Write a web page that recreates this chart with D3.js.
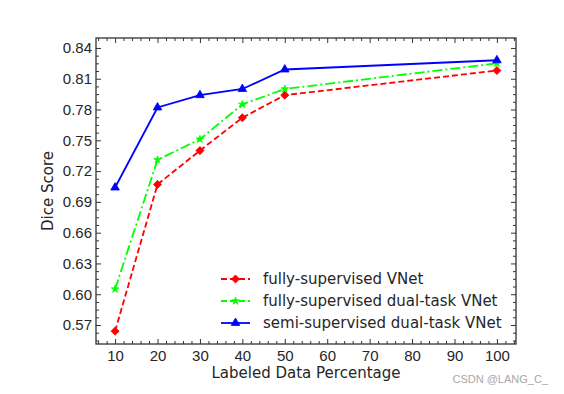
<!DOCTYPE html>
<html>
<head>
<meta charset="utf-8">
<script src="https://cdn.jsdelivr.net/npm/d3@7"></script>
<style>
  body { margin: 0; background: #fff; }
  svg { display: block; font-family: "DejaVu Sans", sans-serif; }
</style>
</head>
<body>
<div id="chart"></div>
<script>
const width = 564,
    height = 394,
    margin = {top: 38, right: 48, bottom: 50, left: 96};

// data
const percentages = [10, 20, 30, 40, 50, 100];
const fullyVNet = [0.564, 0.707, 0.740, 0.772, 0.794, 0.818];
const fullyDualTask = [0.605, 0.731, 0.751, 0.785, 0.800, 0.825];
const semiDualTask = [0.704, 0.782, 0.794, 0.800, 0.819, 0.828];
const xTicks = [10, 20, 30, 40, 50, 60, 70, 80, 90, 100];
const yTicks = [0.57, 0.60, 0.63, 0.66, 0.69, 0.72, 0.75, 0.78, 0.81, 0.84];

const series = [
    {name: "fully-supervised VNet", values: fullyVNet, color: "#ff0000", dash: "6,3", marker: "diamond"},
    {name: "fully-supervised dual-task VNet", values: fullyDualTask, color: "#00ff00", dash: "10,3,2,3", marker: "star"},
    {name: "semi-supervised dual-task VNet", values: semiDualTask, color: "#0000ff", dash: null, marker: "triangle"}
];

const svg = d3.select('#chart').append('svg')
    .attr('width', width)
    .attr('height', height);

const x = d3.scaleLinear()
    .domain([5.5, 104.5])
    .range([margin.left, width - margin.right]);

const y = d3.scaleLinear()
    .domain([0.5515, 0.8497])
    .range([height - margin.bottom, margin.top]);

const textColor = "#262626";
const fontSize = "15px";

// minor tick values
const xMinor = d3.range(6, 105, 2).filter(v => v % 10 !== 0);
const yMinor = d3.range(0, 40).map(i => 0.5475 + i * 0.0075)
    .filter(v => v > 0.5515 && v < 0.8497 && Math.abs((v * 10000) % 300) > 1 && Math.abs((v * 10000) % 300 - 300) > 1);

function styleAxis(g) {
    g.select(".domain").remove();
    g.selectAll("line").attr("stroke", "#333").attr("stroke-width", 1);
    g.selectAll("text").attr("fill", textColor).style("font-size", fontSize);
}

const yBottom = height - margin.bottom, yTop = margin.top,
    xLeft = margin.left, xRight = width - margin.right;

// major ticks, pointing inward on all four sides
svg.append("g").attr("transform", `translate(0,${yBottom})`)
    .call(d3.axisBottom(x).tickValues(xTicks).tickSize(-5).tickPadding(6).tickFormat(d3.format("d")))
    .call(styleAxis);
svg.append("g").attr("transform", `translate(0,${yTop})`)
    .call(d3.axisTop(x).tickValues(xTicks).tickSize(-5).tickFormat(""))
    .call(styleAxis);
svg.append("g").attr("transform", `translate(${xLeft},0)`)
    .call(d3.axisLeft(y).tickValues(yTicks).tickSize(-5).tickPadding(4).tickFormat(d3.format(".2f")))
    .call(styleAxis);
svg.append("g").attr("transform", `translate(${xRight},0)`)
    .call(d3.axisRight(y).tickValues(yTicks).tickSize(-5).tickFormat(""))
    .call(styleAxis);

// minor ticks
svg.append("g").attr("transform", `translate(0,${yBottom})`)
    .call(d3.axisBottom(x).tickValues(xMinor).tickSize(-3).tickFormat(""))
    .call(styleAxis);
svg.append("g").attr("transform", `translate(0,${yTop})`)
    .call(d3.axisTop(x).tickValues(xMinor).tickSize(-3).tickFormat(""))
    .call(styleAxis);
svg.append("g").attr("transform", `translate(${xLeft},0)`)
    .call(d3.axisLeft(y).tickValues(yMinor).tickSize(-3).tickFormat(""))
    .call(styleAxis);
svg.append("g").attr("transform", `translate(${xRight},0)`)
    .call(d3.axisRight(y).tickValues(yMinor).tickSize(-3).tickFormat(""))
    .call(styleAxis);

// frame
svg.append("rect")
    .attr("x", xLeft).attr("y", yTop)
    .attr("width", xRight - xLeft).attr("height", yBottom - yTop)
    .attr("fill", "none")
    .attr("stroke", "#333")
    .attr("stroke-width", 1.3);

// markers
const symbols = {
    diamond: d3.symbol().type(d3.symbolDiamond2).size(42),
    star: d3.symbol().type(d3.symbolStar).size(18),
    triangle: d3.symbol().type(d3.symbolTriangle).size(32)
};

const line = d3.line()
    .x((d, i) => x(percentages[i]))
    .y(d => y(d));

const plot = svg.append("g");
series.forEach(s => {
    plot.append("path")
        .datum(s.values)
        .attr("fill", "none")
        .attr("stroke", s.color)
        .attr("stroke-width", 1.8)
        .attr("stroke-dasharray", s.dash)
        .attr("d", line);

    plot.append("g")
        .selectAll("path")
        .data(s.values)
        .enter()
        .append("path")
        .attr("transform", (d, i) => `translate(${x(percentages[i])},${y(d)})`)
        .attr("d", symbols[s.marker])
        .attr("fill", s.color)
        .attr("stroke", s.color)
        .attr("stroke-width", 0.8);
});

// legend
const legend = svg.append("g").attr("transform", "translate(221,279)");
series.forEach((s, i) => {
    const row = legend.append("g").attr("transform", `translate(0,${i * 22})`);
    row.append("line")
        .attr("x1", 0).attr("x2", 29)
        .attr("stroke", s.color)
        .attr("stroke-width", 1.8)
        .attr("stroke-dasharray", s.marker === "star" ? "6,3" : s.dash);
    row.append("path")
        .attr("transform", "translate(14.5,0)")
        .attr("d", symbols[s.marker])
        .attr("fill", s.color)
        .attr("stroke", s.color)
        .attr("stroke-width", 0.8);
    row.append("text")
        .attr("x", 42)
        .attr("dy", "0.35em")
        .attr("fill", textColor)
        .style("font-size", fontSize)
        .text(s.name);
});

// axis titles
svg.append("text")
    .attr("x", (xLeft + xRight) / 2)
    .attr("y", 378)
    .attr("text-anchor", "middle")
    .attr("fill", textColor)
    .style("font-size", fontSize)
    .text("Labeled Data Percentage");

svg.append("text")
    .attr("transform", `translate(53,${(yTop + yBottom) / 2}) rotate(-90)`)
    .attr("text-anchor", "middle")
    .attr("fill", textColor)
    .style("font-size", fontSize)
    .text("Dice Score");

// watermark
svg.append("text")
    .attr("x", 548)
    .attr("y", 383)
    .attr("text-anchor", "end")
    .attr("fill", "#a8a8a8")
    .style("font-family", "'Liberation Sans', sans-serif")
    .style("font-size", "11px")
    .text("CSDN @LANG_C_");
</script>
</body>
</html>
